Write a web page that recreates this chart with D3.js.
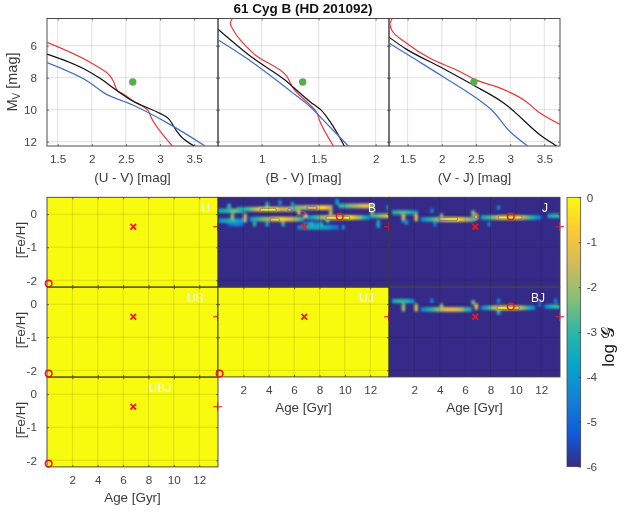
<!DOCTYPE html>
<html>
<head>
<meta charset="utf-8">
<script src="https://cdn.jsdelivr.net/npm/d3@7"></script>
<style>
html,body{margin:0;padding:0;background:#fff;}
svg{display:block;font-family:"Liberation Sans",Arimo,sans-serif;filter:blur(0.3px);}
.tick text{font-size:11.7px;fill:#444;}
.lab{font-size:13.4px;fill:#3a3a3a;}
</style>
</head>
<body>
<svg id="fig" width="623" height="512"></svg>
<script>
// colour-magnitude panels: [colour, M_V]
var uvRed=[[1.344,5.79],[2.0,7.1],[2.27,7.9],[2.32,8.25],[2.37,8.77],[2.485,9.08],[2.6,9.44],[2.83,10.08],[2.876,10.54],[3.18,12.27]];
var uvBlack=[[1.344,6.52],[1.876,7.42],[2.12,8.04],[2.37,8.81],[2.6,9.46],[2.95,10.13],[3.12,10.54],[3.24,11.31],[3.31,11.69],[3.5,12.27]];
var uvBlue=[[1.344,7.06],[1.95,8.25],[2.19,8.98],[2.6,9.71],[3.1,10.81],[3.66,12.27]];
var bvRed=[[0.743,4.3],[0.725,4.6],[0.751,5.02],[0.927,6.48],[1.22,7.9],[1.278,8.67],[1.424,9.7],[1.48,10.13],[1.512,10.75],[1.629,12.27]];
var bvBlack=[[0.62,4.98],[0.927,6.79],[1.205,8.15],[1.278,8.6],[1.424,9.5],[1.526,10.06],[1.6,10.75],[1.725,12.27]];
var bvBlue=[[0.62,5.65],[0.868,6.79],[1.278,8.98],[1.424,9.8],[1.526,10.54],[1.76,12.27]];
var vjRed=[[1.276,4.3],[1.241,4.6],[1.266,5.02],[1.485,5.85],[1.827,6.79],[2.217,7.52],[2.51,8.15],[2.9,8.73],[3.217,9.44],[3.41,10.13],[3.73,10.92]];
var vjBlack=[[1.232,5.48],[1.485,6.23],[2.02,7.42],[2.46,8.46],[2.9,9.56],[3.485,11.73],[3.68,12.27]];
var vjBlue=[[1.232,5.85],[1.534,6.65],[2.02,7.94],[2.51,9.29],[2.73,10.02],[3.0,11.38],[3.256,12.27]];
var starColours=[2.6,1.36,2.47];
var starMv=8.27;

var cmdLabels=["(U - V) [mag]","(B - V) [mag]","(V - J) [mag]"];
var cmdDomains=[[1.343,3.85],[0.617,2.117],[1.227,3.73]];
var cmdTicks=[[1.5,2,2.5,3,3.5],[1,1.5,2],[1.5,2,2.5,3,3.5]];
var mvTicks=[6,8,10,12];

// log G runs in 0.25 Gyr bins: [feh, first age, values]
var runsB=[
 [0.1,0,[-3.5,-3.3,-3.2,-3,-2.6,-2.4,-3,-3.4]],
 [0.15,1.5,[-3.6,-3.4,-3,-2.8,-2.4,-2,-1.2,-0.3,-0.1,0,0,-0.1,-0.4,-1.3,-1.6,-1.3,-0.9,-3]],
 [-0.15,2.5,[-4,-3.4,-3,-2.6,-2.2,-2,-1.6,-0.6,-0.1,-0.1,-0.5,-1,-1.3,-1.6,-2,-2.6,-3.4]],
 [-0.2,0,[-4.2,-3.8,-3.5,-3.3,-3.3,-3.5,-3.8,-4.2,-4.6]],
 [-0.3,0.75,[-5,-4.8,-4.6,-4.6,-4.8]],
 [0.2,6,[-2.5,-2.2,-2,-1.8,-1.5,-1.4,-1.1,-0.7,-0.4,-0.6,-1.3,-1.8]],
 [0.25,9.5,[-3,-3,-2.7,-2.4,-2.1,-1.8,-1.5,-1.2,-1,-1.3,-2]],
 [-0.1,7,[-4.4,-3.6,-3.1,-2.6,-2.2,-1.8,-0.9,-0.2,0,0,0,0,0,-0.1,-0.5,-1.4,-2.1,-2.9,-3.6,-4.3]],
 [-0.05,12,[-3.2,-2.9,-2.5,-2.2,-1.8,-1]],
 [-0.4,6.25,[-4.6,-4.2,-3.9,-3.6,-3.5,-3.4,-3.5,-3.6,-3.7,-3.8,-4.2,-4.6,-4.8]],
 [-0.3,6.75,[-4.5,-4.4,-4.3,-4.3,-4.4]]
];
var runsJ=[
 [0.05,0.25,[-3.2,-3,-2.8,-2.8,-3,-3.2,-3.6,-4.4]],
 [-0.16,2.5,[-4.4,-3.9,-3.3,-3,-2.5,-2.2,-1.6,-0.8,-0.1,0,0,-0.3,-0.9,-1.4,-1.7,-2.2,-3]],
 [-0.1,7.25,[-3.6,-3.2,-3,-2.4,-2.2,-0.9,-0.1,0,0,0,0,-0.1,-0.8,-1.9,-2.5,-3,-3.5,-4.2]],
 [-0.05,12.5,[-3.8,-3.3,-3.1,-3]]
];
var runsBJ=[
 [0.09,0.25,[-3.6,-3.2,-3,-3,-3.2,-3.6,-4.4]],
 [-0.16,2.5,[-4.5,-4,-3.4,-3,-2.6,-2.2,-1.8,-1.4,-1.1,-0.9,-1,-1.3,-1.8,-2.4,-3,-3.6]],
 [-0.11,7.25,[-4.4,-3.6,-3,-2.2,-1.6,-0.8,0,0,0,0,0,-0.8,-1.6,-2.4,-3,-3.6,-4.4]],
 [-0.07,12.25,[-4.4,-3.6,-3.2,-3,-3]]
];
// single bins: [age, feh, log G]
var cellsB=[
 [0.75,0.25,-3.4],[0.75,0.2,-3],[1,0,-2.4],[1,-0.1,-2.2],[2,-0.05,-1.9],[2,-0.15,-1.7],
 [2.75,-0.3,-3],[3.75,-0.3,-3.4],[5,-0.3,-3.1],[3.75,0.3,-3.1],[4.75,0.35,-4],[5.75,0.3,-3.6],
 [6,0.15,-2.4],[6.25,0.05,-1],[6.75,-0.05,-1],[7.25,-0.3,-3.2],[8,-0.3,-3.2],[8.5,-0.2,-3.1],
 [8.75,0.05,-1.6],[9.25,0.35,-3.9],[9.25,0.4,-4.3],[9.75,-0.4,-4.2],[12,0.05,-2.1],[12.5,-0.25,-3.4],[12.5,-0.35,-3.6],[13.25,0.2,-4.4]
];
var cellsJ=[
 [1,-0.1,-1.6],[1,-0.05,-1.9],[2,-0.05,-1.3],[2,-0.15,-1.6],[1,-0.2,-4.3],[1.25,-0.25,-4.2],
 [3.25,0.1,-4.6],[4,-0.05,-2.2],[3.5,-0.3,-4.6],[6.5,0.05,-2.6],[6.5,0,-2.3],[6.75,-0.05,-0.9],[6.75,-0.1,-1],[8.5,0.2,-4.5],[7.75,-0.3,-4.5],[11.75,-0.1,-4.6]
];
var cellsBJ=[
 [1,-0.05,-2.3],[1,-0.15,-2.1],[2,-0.05,-1.9],[2,-0.15,-1.5],[3.25,0.1,-4.6],[4,-0.05,-2.2],
 [6.5,0.05,-2.4],[6.75,-0.05,-1.4],[6.75,-0.1,-1.6],[8.5,0.1,-4.5],[8.5,-0.25,-3.1],[11.75,0,-4.6],[13,0.1,-4.6]
];
// contour pills: [age from, age to, feh]
var pillsB=[[3.3,4.6,0.13],[5.5,5.8,0.13],[4.1,4.85,-0.17],[7.0,7.8,0.19],[8.5,10.4,-0.11],[6.5,6.9,0.03]];
var pillsJ=[[3.9,5.4,-0.14],[8.6,10.5,-0.1],[6.7,7,-0.08]];
var pillsBJ=[[8.5,10.3,-0.11]];

var panelNames=["U","B","J","UB","UJ","BJ","UBJ"];
var panelCols=[0,1,2,0,1,2,0];
var panelRows=[0,0,0,1,1,1,2];
var panelRuns=[null,runsB,runsJ,null,null,runsBJ,null];
var panelCells=[null,cellsB,cellsJ,null,null,cellsBJ,null];
var panelPills=[null,pillsB,pillsJ,null,null,pillsBJ,null];
var panelBest=[[0.13,-2.1],[9.6,-0.07],[9.6,-0.07],[0.13,-2.1],[0.13,-2.1],[9.6,-0.07],[0.13,-2.1]];
var panelLabelAge=[12.5,12.15,12.3,11.7,11.7,11.75,8.9];
var xLabelled=[false,false,false,false,true,true,true];
var ageTicks=[2,4,6,8,10,12];
var fehTicks=[0,-1,-2];
var ageTrue=6.8, fehTrue=-0.38, ageMax=13.45;
var barTicks=[0,-1,-2,-3,-4,-5,-6];
var parula=["#352a87","#0f5cdd","#1481d6","#06a4ca","#2eb7a4","#87bf77","#d1bb59","#fec832","#f9fb0e"];

var colEdges=[47,218,389,560];
var rowTops=[197.3,287.3,377.3];
var rowH=89.6, cmdTop=18.5, cmdBottom=146;
var axisCol="#3a3a3a", gridCol="rgba(0,0,0,0.12)";

var svg=d3.select("#fig");
var defs=svg.append("defs");
defs.append("filter").attr("id","soft").attr("x","-5%").attr("y","-5%").attr("width","110%").attr("height","110%")
  .append("feGaussianBlur").attr("stdDeviation",0.9);

var colour=d3.scaleLinear()
  .domain(parula.map(function(c,i){return -6+i*6/(parula.length-1);}))
  .range(parula);

function styleAxis(g){
  g.selectAll(".domain").remove();
  g.selectAll(".tick line").attr("stroke",axisCol).attr("stroke-width",0.7);
}

function frame(g,x,y,xTicks,yTicks){
  var x0=x.range()[0],x1=x.range()[1];
  var y0=d3.min(y.range()),y1=d3.max(y.range());
  // grid
  g.selectAll("line.gx").data(xTicks).enter().append("line").attr("class","gx")
    .attr("x1",x).attr("x2",x).attr("y1",y0).attr("y2",y1)
    .attr("stroke",gridCol).attr("stroke-width",1);
  g.selectAll("line.gy").data(yTicks).enter().append("line").attr("class","gy")
    .attr("y1",y).attr("y2",y).attr("x1",x0).attr("x2",x1)
    .attr("stroke",gridCol).attr("stroke-width",1);
  // inward ticks on all four sides
  g.append("g").attr("transform","translate(0,"+y0+")").call(d3.axisBottom(x).tickValues(xTicks).tickSize(2).tickFormat("")).call(styleAxis);
  g.append("g").attr("transform","translate(0,"+y1+")").call(d3.axisTop(x).tickValues(xTicks).tickSize(2).tickFormat("")).call(styleAxis);
  g.append("g").attr("transform","translate("+x0+",0)").call(d3.axisRight(y).tickValues(yTicks).tickSize(2).tickFormat("")).call(styleAxis);
  g.append("g").attr("transform","translate("+x1+",0)").call(d3.axisLeft(y).tickValues(yTicks).tickSize(2).tickFormat("")).call(styleAxis);
  g.append("rect").attr("x",x0).attr("y",y0).attr("width",x1-x0).attr("height",y1-y0)
    .attr("fill","none").attr("stroke",axisCol).attr("stroke-width",0.9);
}

function tickLabels(g,axis,tx,ty,dx){
  var a=g.append("g").attr("transform","translate("+tx+","+ty+")").call(axis);
  a.selectAll(".domain").remove();
  a.selectAll(".tick line").remove();
  a.selectAll(".tick text").attr("dx",dx);
}

// top row
var cmdSeries=[[uvRed,uvBlack,uvBlue],[bvRed,bvBlack,bvBlue],[vjRed,vjBlack,vjBlue]];
var lineCols=["#f0343a","#111111","#3f6fc6"];
var mvScale=d3.scaleLinear().domain([4.3,12.27]).range([cmdTop,cmdBottom]);
cmdSeries.forEach(function(series,i){
  var x=d3.scaleLinear().domain(cmdDomains[i]).range([colEdges[i],colEdges[i+1]]);
  var g=svg.append("g");
  var id="cmdclip"+i;
  defs.append("clipPath").attr("id",id).append("rect")
    .attr("x",colEdges[i]).attr("y",cmdTop).attr("width",colEdges[i+1]-colEdges[i]).attr("height",cmdBottom-cmdTop);
  var line=d3.line().curve(d3.curveCatmullRom.alpha(0.9)).x(function(d){return x(d[0]);}).y(function(d){return mvScale(d[1]);});
  frame(g,x,mvScale,cmdTicks[i],mvTicks);
  var lines=g.append("g").attr("clip-path","url(#"+id+")");
  series.forEach(function(s,k){
    lines.append("path").datum(s).attr("d",line).attr("fill","none")
      .attr("stroke",lineCols[k]).attr("stroke-width",1.2);
  });
  g.append("circle").attr("cx",x(starColours[i])).attr("cy",mvScale(starMv)).attr("r",3.7).attr("fill","#5cab50");
  tickLabels(g,d3.axisBottom(x).tickValues(cmdTicks[i]).tickFormat(String),0,cmdBottom,0);
  g.append("text").attr("class","lab").attr("text-anchor","middle")
    .attr("x",(colEdges[i]+colEdges[i+1])/2).attr("y",182).text(cmdLabels[i]);
});
tickLabels(svg.append("g"),d3.axisLeft(mvScale).tickValues(mvTicks).tickFormat(String),47,0,-1);
var mv=svg.append("text").attr("class","lab").style("font-size","14.5px").attr("text-anchor","middle")
  .attr("transform","translate(17,82) rotate(-90)");
mv.append("tspan").text("M");
mv.append("tspan").attr("dy",3).style("font-size","10px").text("V");
mv.append("tspan").attr("dy",-3).text(" [mag]");

svg.append("text").attr("x",303).attr("y",12.5).attr("text-anchor","middle")
  .style("font-size","13.5px").style("font-weight","bold").attr("fill","#111").text("61 Cyg B (HD 201092)");

// heat panels
panelNames.forEach(function(name,i){
  var c=panelCols[i], r=panelRows[i];
  var x=d3.scaleLinear().domain([0,13.48]).range([colEdges[c],colEdges[c+1]]);
  var y=d3.scaleLinear().domain([-2.2,0.51]).range([rowTops[r]+rowH,rowTops[r]]);
  var g=svg.append("g");
  var id="heatclip"+i;
  defs.append("clipPath").attr("id",id).append("rect")
    .attr("x",x.range()[0]).attr("y",rowTops[r]).attr("width",x.range()[1]-x.range()[0]).attr("height",rowH);
  var flat=panelRuns[i]===null;
  g.append("rect").attr("x",x.range()[0]).attr("y",rowTops[r])
    .attr("width",x.range()[1]-x.range()[0]).attr("height",rowH)
    .attr("fill",colour(flat?0:-6));
  if(!flat){
    var bins=[];
    panelRuns[i].forEach(function(run){
      run[2].forEach(function(v,k){bins.push([run[1]+k*0.25,run[0],v]);});
    });
    panelCells[i].forEach(function(cell){bins.push(cell);});
    bins.sort(function(a,b){return a[2]-b[2];});
    var heat=g.append("g").attr("clip-path","url(#"+id+")").append("g").attr("filter","url(#soft)");
    heat.selectAll("rect").data(bins).enter().append("rect")
      .attr("x",function(d){return x(d[0]);})
      .attr("width",x(0.25)-x(0)+0.3)
      .attr("y",function(d){return y(d[1]+0.07);})
      .attr("height",y(0)-y(0.14))
      .attr("fill",function(d){return colour(d[2]);});
    g.selectAll("rect.pill").data(panelPills[i]).enter().append("rect").attr("class","pill")
      .attr("x",function(d){return x(d[0]);})
      .attr("width",function(d){return x(d[1])-x(d[0]);})
      .attr("y",function(d){return y(d[2]+0.05);})
      .attr("height",y(0)-y(0.1))
      .attr("rx",1.5)
      .attr("fill","none").attr("stroke","#75659f").attr("stroke-width",0.8);
  }
  frame(g,x,y,ageTicks,fehTicks);
  g.append("text").attr("x",x(panelLabelAge[i])).attr("y",y(0.5)+14).attr("text-anchor","middle")
    .style("font-size","12px").attr("fill","#fff").text(name);
  // markers
  g.append("path").attr("transform","translate("+x(ageTrue)+","+y(fehTrue)+")")
    .attr("d","M-2.8,-2.8L2.8,2.8M-2.8,2.8L2.8,-2.8").attr("fill","none").attr("stroke","#f5141e").attr("stroke-width",1.8);
  g.append("path").attr("transform","translate("+x(ageMax)+","+y(fehTrue)+")")
    .attr("d","M-4.5,0H4.5M0,-4.5V4.5").attr("fill","none").attr("stroke","#f5141e").attr("stroke-width",1.1);
  g.append("circle").attr("cx",x(panelBest[i][0])).attr("cy",y(panelBest[i][1])).attr("r",3.3)
    .attr("fill","none").attr("stroke","#f0141e").attr("stroke-width",1.5);
  if(xLabelled[i]){
    tickLabels(g,d3.axisBottom(x).tickValues(ageTicks).tickFormat(String),0,rowTops[r]+rowH,0);
    g.append("text").attr("class","lab").attr("text-anchor","middle")
      .attr("x",(colEdges[c]+colEdges[c+1])/2).attr("y",rowTops[r]+rowH+35).text("Age [Gyr]");
  }
  if(c===0){
    tickLabels(g,d3.axisLeft(y).tickValues(fehTicks).tickFormat(String),47,0,-1);
    g.append("text").attr("class","lab").attr("text-anchor","middle")
      .attr("transform","translate(25,"+(rowTops[r]+rowH/2-2)+") rotate(-90)").text("[Fe/H]");
  }
});

// colour bar
var barY=d3.scaleLinear().domain([-6,0]).range([466.7,197.3]);
var grad=defs.append("linearGradient").attr("id","parula").attr("x1",0).attr("x2",0).attr("y1",1).attr("y2",0);
grad.selectAll("stop").data(parula).enter().append("stop")
  .attr("offset",function(c,i){return i/(parula.length-1);})
  .attr("stop-color",function(c){return c;});
var bar=svg.append("g");
bar.append("rect").attr("x",567).attr("y",barY(0)).attr("width",13.7).attr("height",barY(-6)-barY(0))
  .attr("fill","url(#parula)").attr("stroke",axisCol).attr("stroke-width",0.7);
bar.append("g").attr("transform","translate(580.7,0)")
  .call(d3.axisLeft(barY).tickValues(barTicks).tickSize(2).tickFormat("")).call(styleAxis);
tickLabels(svg.append("g"),d3.axisRight(barY).tickValues(barTicks).tickFormat(String),580.7,0,-3);
svg.append("text").attr("transform","translate(614,347) rotate(-90)").attr("text-anchor","middle")
  .style("font-size","17px").attr("fill","#111")
  .text("log \uD835\uDCA2");
</script>
</body>
</html>
